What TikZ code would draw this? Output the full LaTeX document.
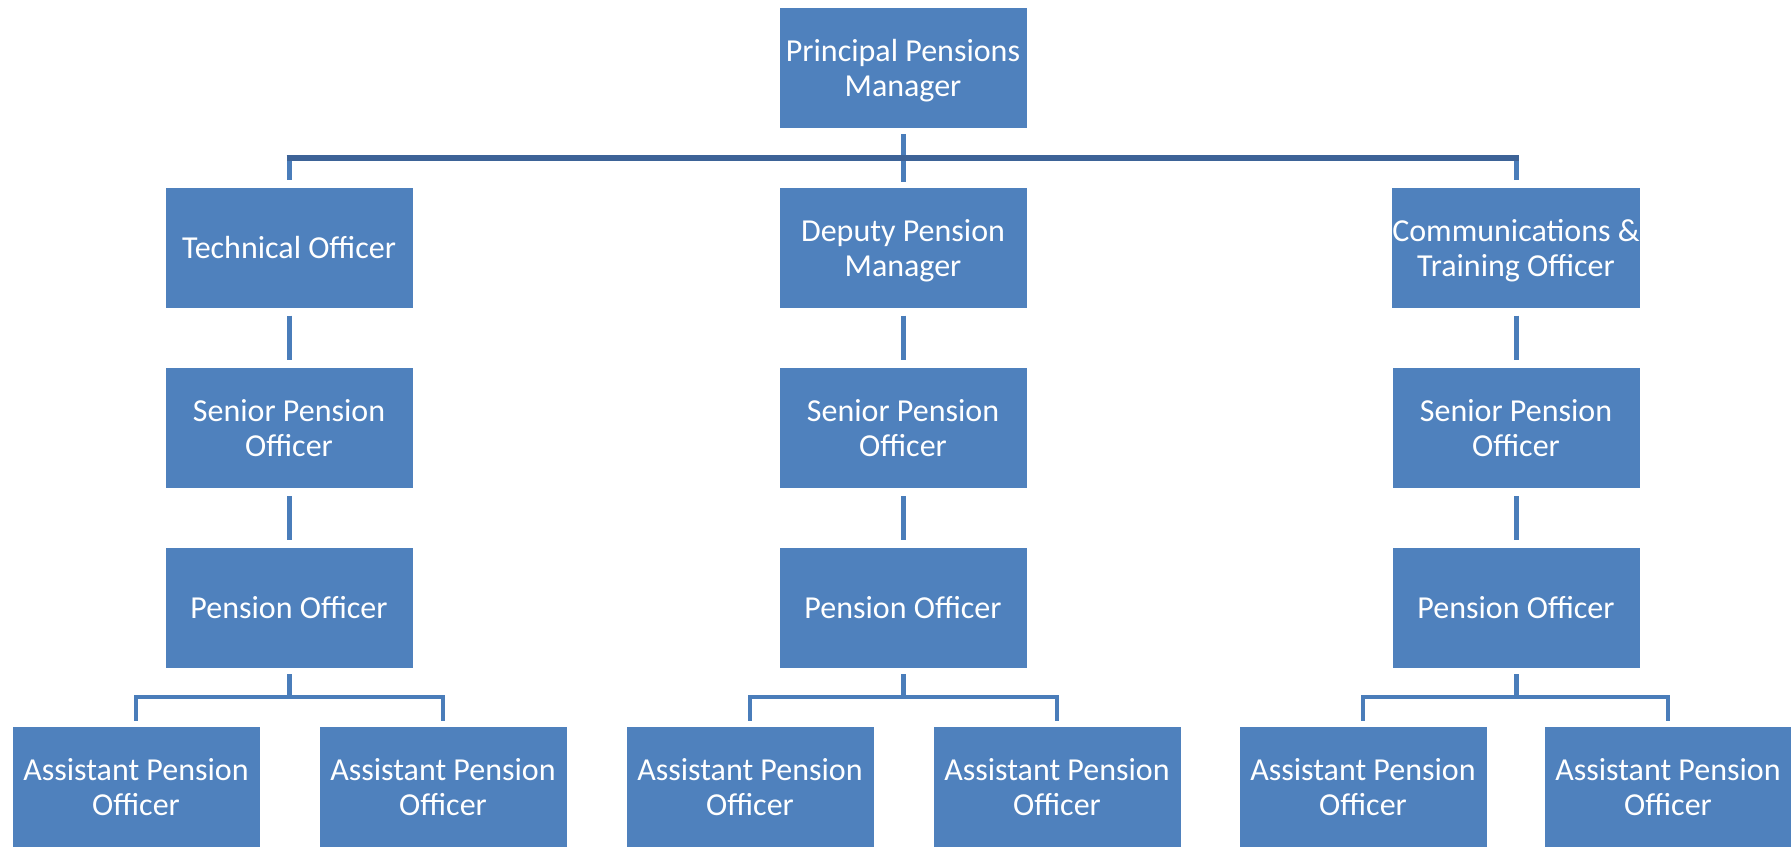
\documentclass[tikz,border=0pt]{standalone}
\usepackage{fontspec}
\setmainfont{Carlito}
\definecolor{boxblue}{HTML}{4F81BD}
\definecolor{connblue}{HTML}{4A7DBA}
\definecolor{barblue}{HTML}{3D6397}
\newcommand\flatdepth[1]{\raisebox{0pt}[\height][0pt]{#1}}
\begin{document}
\begin{tikzpicture}[x=1pt,y=-1pt,
  post/.style={fill=boxblue, minimum width=247pt, minimum height=120pt, inner sep=0pt,
    align=center, text=white, font=\fontsize{32}{35}\selectfont},
  conn/.style={draw=connblue, line width=5pt},
  bracket/.style={draw=connblue, line width=4.5pt, line join=miter},
  topbar/.style={draw=barblue, line width=6pt}]
\useasboundingbox (0,0) rectangle (1791,846);
% level 1
\node[post] (top) at (903,67.5) {Principal Pensions\\\flatdepth{Manager}};
% level 2
\node[post] (tech) at (289,247.5) {Technical Officer};
\node[post] (dep)  at (903,247.5) {Deputy Pension\\\flatdepth{Manager}};
\node[post] (comm) at (1516,247.5) {Communications \&\\\flatdepth{Training Officer}};
% level 3
\node[post] (s1) at (289,428) {Senior Pension\\Officer};
\node[post] (s2) at (903,428) {Senior Pension\\Officer};
\node[post] (s3) at (1516,428) {Senior Pension\\Officer};
% level 4
\node[post] (p1) at (289,608) {Pension Officer};
\node[post] (p2) at (903,608) {Pension Officer};
\node[post] (p3) at (1516,608) {Pension Officer};
% level 5
\node[post] (a1) at (136,787) {Assistant Pension\\Officer};
\node[post] (a2) at (443,787) {Assistant Pension\\Officer};
\node[post] (a3) at (750,787) {Assistant Pension\\Officer};
\node[post] (a4) at (1057,787) {Assistant Pension\\Officer};
\node[post] (a5) at (1363,787) {Assistant Pension\\Officer};
\node[post] (a6) at (1668,787) {Assistant Pension\\Officer};
% top connectors
\coordinate (hb) at (903,158);
\draw[conn] ([yshift=-6.5pt]top.south) -- ([yshift=5pt]dep.north);
\draw[conn] (tech.north |- hb) -- ([yshift=7pt]tech.north);
\draw[conn] (comm.north |- hb) -- ([yshift=7pt]comm.north);
\draw[topbar] ([xshift=-2.5pt]tech.north |- hb) -- ([xshift=2.5pt]comm.north |- hb);
% vertical connectors
\foreach \u/\v in {tech/s1, dep/s2, comm/s3, s1/p1, s2/p2, s3/p3}
  \draw[conn] ([yshift=-8pt]\u.south) -- ([yshift=8pt]\v.north);
% bottom brackets
\foreach \p/\l/\r in {p1/a1/a2, p2/a3/a4, p3/a5/a6}{
  \coordinate (h\p) at ([yshift=-29pt]\p.south);
  \draw[conn] ([yshift=-6pt]\p.south) -- (h\p);
  \draw[bracket] ([yshift=6pt]\l.north) -- (\l.north |- h\p) -- (\r.north |- h\p) -- ([yshift=6pt]\r.north);
}
\end{tikzpicture}
\end{document}
